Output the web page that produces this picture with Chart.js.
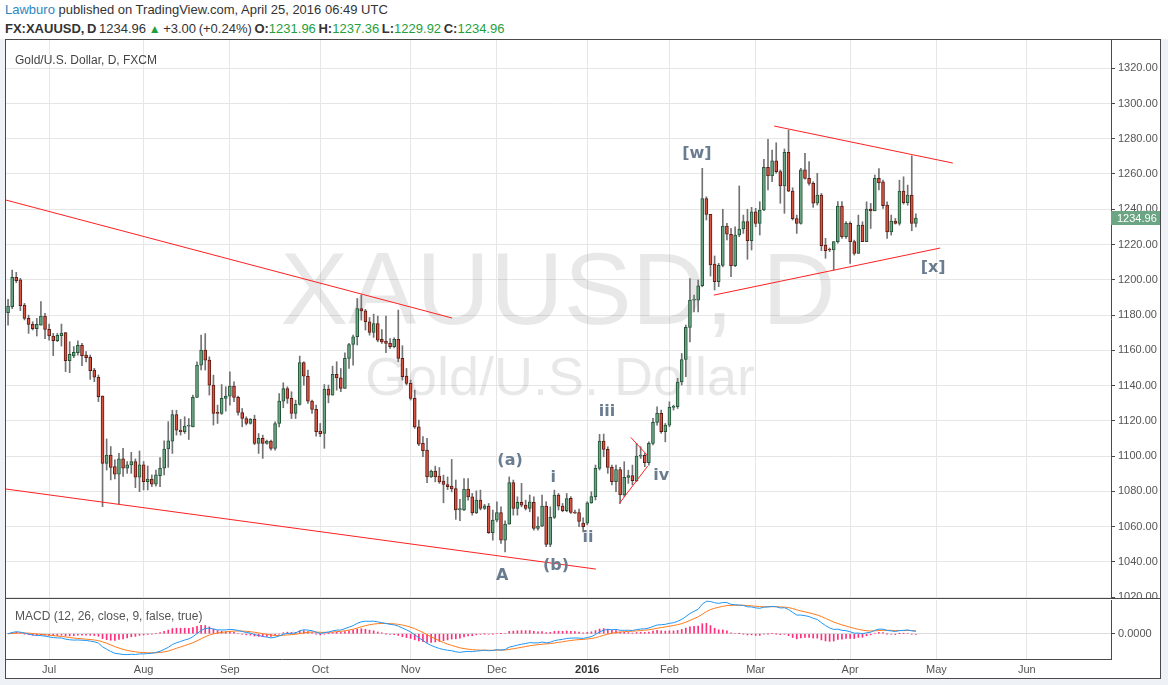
<!DOCTYPE html>
<html>
<head>
<meta charset="utf-8">
<script src="https://cdn.jsdelivr.net/npm/chart.js@4.4.1/dist/chart.umd.min.js"></script>
<style>
  body { margin: 0; width: 1168px; height: 685px; background: #eef1f5; position: relative; overflow: hidden;
         font-family: "Liberation Sans", Arial, sans-serif; }
  #head { position: absolute; left: 0; top: 0; width: 1168px; height: 39px; background: #fff; color: #333; font-size: 13px; }
  #l1 { position: absolute; left: 5px; top: 2px; white-space: nowrap; }
  #l2 { position: absolute; left: 5px; top: 21px; white-space: nowrap; word-spacing: -1px; }
  #author { color: #2e86c1; }
  .g { color: #1fa03c; }
  .tri { color: #1fa03c; font-size: 12px; }
  #frame { position: absolute; left: 5px; top: 39px; width: 1154px; height: 638px; border: 1px solid #4a4a4a; background: #fff; }
  #main { position: absolute; left: 0; top: 0; }
  #sep { position: absolute; left: 0; top: 558px; width: 1154px; height: 1px; background: #4a4a4a; }
  #macd { position: absolute; left: 0; top: 559px; }
</style>
</head>
<body>
<div id="head">
  <div id="l1"><span id="author">Lawburo</span> published on TradingView.com, April 25, 2016 06:49 UTC</div>
  <div id="l2"></div>
</div>
<div id="frame">
  <canvas id="main" width="1154" height="558"></canvas>
  <div id="sep"></div>
  <canvas id="macd" width="1154" height="79"></canvas>
</div>
<script>
// ---- data (daily bars from Jun 17 2015, weekdays, no Dec 25 / Jan 1) ----
const dayCount = 269;
const skipDays = ['2015-12-25', '2016-01-01'];
const monthTickLabels = ['2016', 'Feb', 'Mar', 'Apr', 'May', 'Jun', 'Jul', 'Aug', 'Sep', 'Oct', 'Nov', 'Dec'];
const priceTicks = { min: 1019.5, max: 1336, step: 20 };

const openP = [
  1181.3,1184.7,1201.4,1199.9,1185.7,1178.1,1174.7,1172.3,1174.3,1179.4,
  1171.9,1168.1,1165.5,1168.3,1170.0,1154.1,1156.8,1158.6,1162.8,1157.3,
  1156.0,1148.8,1144.7,1134.1,1095.9,1100.6,1094.0,1089.7,1098.4,1093.1,
  1095.0,1096.9,1088.0,1095.0,1085.5,1087.0,1084.0,1088.9,1093.1,1104.0,
  1108.5,1123.6,1114.7,1113.8,1117.0,1116.6,1133.3,1151.6,1160.1,1154.4,
  1140.2,1124.5,1124.2,1132.7,1134.0,1139.7,1133.3,1124.7,1121.3,1118.5,
  1121.0,1107.2,1110.0,1107.2,1108.5,1104.3,1118.5,1131.2,1138.3,1132.7,
  1124.2,1129.3,1153.1,1145.3,1131.2,1126.5,1114.2,1112.9,1138.0,1134.6,
  1146.3,1144.4,1138.4,1155.4,1163.3,1167.7,1183.7,1182.4,1176.2,1170.1,
  1175.2,1166.2,1165.2,1163.9,1162.0,1166.2,1155.4,1145.4,1141.2,1132.7,
  1116.6,1107.2,1103.4,1088.2,1091.5,1088.6,1085.8,1083.9,1083.0,1081.6,
  1069.4,1069.4,1081.3,1076.9,1067.8,1075.0,1070.3,1071.6,1056.5,1063.7,
  1068.0,1052.3,1061.4,1085.0,1070.3,1073.7,1072.2,1070.3,1073.7,1059.0,
  1060.3,1071.6,1049.9,1065.2,1077.9,1071.6,1069.0,1076.0,1068.2,1068.0,
  1062.0,1062.0,1073.5,1077.0,1093.0,1108.5,1103.8,1093.6,1085.5,1092.4,
  1077.9,1087.9,1088.9,1086.0,1100.0,1100.4,1096.2,1107.2,1119.1,1124.2,
  1113.8,1117.6,1127.6,1128.0,1142.0,1154.8,1173.0,1188.5,1188.5,1196.6,
  1246.1,1237.1,1208.9,1198.9,1208.2,1230.5,1225.8,1208.0,1225.4,1228.8,
  1233.0,1222.2,1238.6,1232.0,1239.6,1263.8,1258.9,1267.4,1261.3,1253.2,
  1272.3,1250.3,1234.7,1232.0,1262.3,1257.5,1254.7,1243.4,1248.1,1219.7,
  1217.0,1216.9,1221.6,1241.8,1224.4,1232.0,1221.6,1214.9,1231.0,1221.6,
  1240.1,1239.1,1257.5,1255.6,1242.3,1227.2,1233.3,1231.9,1250.3,1243.7,
  1248.0,1231.96
];
const highP = [
  1188.9,1205.5,1204.2,1200.8,1186.6,1180.0,1176.2,1178.1,1187.6,1181.0,
  1174.9,1169.6,1169.6,1174.9,1170.0,1164.9,1162.1,1165.3,1164.0,1159.2,
  1157.3,1149.8,1146.0,1134.1,1109.7,1105.4,1097.8,1101.6,1104.4,1096.9,
  1102.1,1098.4,1102.9,1096.9,1094.4,1089.3,1092.1,1099.1,1108.6,1119.5,
  1126.0,1126.0,1120.8,1122.3,1121.3,1134.6,1153.5,1168.6,1169.5,1156.3,
  1145.9,1128.9,1140.6,1139.3,1147.8,1142.1,1134.0,1127.0,1122.3,1121.3,
  1123.2,1112.8,1111.9,1109.1,1109.1,1119.4,1135.5,1141.6,1139.3,1136.5,
  1131.7,1156.7,1153.5,1148.8,1131.7,1128.9,1118.5,1140.6,1140.3,1151.0,
  1153.5,1149.7,1158.6,1163.9,1168.6,1189.4,1191.3,1183.2,1178.6,1180.5,
  1179.4,1171.8,1179.4,1166.7,1167.1,1182.8,1162.6,1149.7,1143.1,1137.4,
  1120.4,1111.0,1110.0,1092.0,1094.3,1093.5,1089.2,1088.2,1098.1,1086.4,
  1075.4,1087.3,1087.3,1078.8,1080.3,1080.7,1072.6,1073.1,1069.4,1074.1,
  1071.2,1063.3,1088.2,1086.4,1076.9,1084.5,1075.0,1077.9,1076.9,1065.6,
  1077.9,1074.1,1071.2,1080.7,1078.8,1073.1,1078.8,1077.0,1069.4,1070.0,
  1065.0,1074.1,1079.8,1094.9,1112.3,1112.5,1105.3,1094.9,1094.9,1093.6,
  1096.8,1092.0,1094.9,1107.2,1105.3,1101.5,1108.1,1121.4,1128.0,1126.1,
  1118.5,1130.8,1128.9,1144.1,1158.2,1174.3,1200.7,1191.3,1199.8,1263.2,
  1247.1,1237.1,1213.5,1209.3,1240.0,1232.0,1229.2,1230.1,1253.2,1236.7,
  1240.0,1241.1,1240.5,1244.3,1268.3,1279.6,1273.6,1277.7,1262.3,1274.2,
  1284.9,1252.2,1236.7,1263.2,1271.7,1267.0,1255.6,1260.4,1249.0,1223.5,
  1218.0,1221.6,1244.3,1244.3,1233.0,1232.9,1222.5,1236.7,1232.9,1244.2,
  1243.3,1259.4,1263.1,1256.5,1244.2,1236.7,1234.8,1256.5,1258.4,1253.7,
  1270.3,1237.36
];
const lowP = [
  1174.3,1183.6,1198.3,1182.5,1177.2,1169.6,1171.5,1168.1,1174.3,1166.6,
  1165.8,1157.0,1164.9,1162.4,1147.9,1147.3,1155.8,1157.3,1151.3,1153.4,
  1143.5,1142.2,1130.9,1071.3,1092.1,1086.5,1087.0,1072.9,1088.4,1090.2,
  1090.2,1082.1,1079.8,1080.8,1080.8,1082.7,1083.0,1082.7,1089.3,1093.6,
  1101.5,1111.9,1111.9,1112.8,1109.4,1116.6,1133.3,1148.8,1148.8,1134.6,
  1117.6,1118.5,1123.6,1125.5,1128.9,1130.8,1123.2,1116.6,1117.6,1118.1,
  1106.5,1101.5,1098.7,1106.8,1103.4,1103.4,1116.6,1127.4,1129.9,1121.3,
  1121.3,1128.9,1140.2,1129.9,1124.2,1111.3,1111.0,1104.4,1130.2,1134.6,
  1137.4,1136.5,1138.4,1149.7,1151.6,1163.0,1177.1,1171.5,1168.6,1167.3,
  1164.8,1163.9,1158.6,1161.1,1161.4,1153.5,1143.1,1140.3,1131.8,1115.7,
  1105.9,1099.6,1084.9,1087.9,1085.4,1084.5,1073.5,1081.0,1079.7,1064.1,
  1063.3,1069.0,1075.0,1066.5,1067.4,1069.4,1069.7,1056.1,1052.3,1062.7,
  1050.4,1045.7,1061.4,1066.5,1066.5,1071.2,1069.4,1068.4,1058.0,1058.0,
  1059.9,1048.6,1048.6,1064.6,1069.4,1068.4,1068.4,1067.5,1067.5,1060.0,
  1057.0,1061.0,1073.2,1075.1,1092.1,1099.6,1090.2,1083.6,1079.8,1073.2,
  1077.0,1084.5,1083.6,1085.5,1098.7,1094.0,1094.9,1106.3,1117.6,1112.9,
  1108.1,1116.6,1126.1,1127.0,1140.3,1145.0,1164.8,1181.8,1181.8,1196.0,
  1233.9,1202.1,1194.2,1196.1,1207.4,1222.6,1201.8,1207.4,1224.4,1226.3,
  1211.6,1216.9,1230.1,1225.4,1239.2,1250.9,1255.6,1260.4,1243.4,1237.7,
  1250.0,1233.9,1226.3,1231.6,1257.0,1253.7,1241.1,1242.4,1216.5,1212.2,
  1216.0,1205.5,1220.7,1223.5,1223.5,1209.3,1214.0,1214.9,1221.6,1221.6,
  1229.1,1239.1,1250.9,1240.5,1223.4,1225.3,1231.6,1231.0,1242.9,1242.3,
  1227.8,1229.92
];
const closeP = [
  1185.1,1201.4,1199.5,1185.3,1178.1,1174.7,1172.3,1174.7,1179.4,1171.9,
  1168.1,1165.5,1168.5,1169.8,1154.1,1157.7,1158.8,1162.8,1157.0,1155.8,
  1148.5,1144.7,1133.7,1095.9,1100.6,1093.5,1089.7,1098.4,1093.1,1095.0,
  1096.9,1088.0,1095.0,1085.5,1087.0,1084.0,1089.3,1093.1,1104.0,1108.6,
  1123.6,1114.7,1113.8,1117.0,1117.2,1133.3,1151.6,1160.1,1154.4,1140.2,
  1124.2,1124.2,1132.7,1134.0,1139.7,1133.3,1124.7,1121.3,1118.5,1121.0,
  1107.2,1110.0,1107.2,1108.5,1104.3,1118.5,1131.2,1138.3,1132.7,1124.2,
  1129.3,1153.1,1145.3,1131.2,1126.5,1113.8,1112.5,1138.0,1134.6,1146.3,
  1144.4,1138.4,1155.4,1163.3,1167.7,1183.7,1182.4,1176.2,1170.1,1175.2,
  1165.8,1164.8,1163.9,1162.0,1166.2,1155.4,1145.0,1141.2,1132.7,1116.6,
  1106.8,1103.0,1088.2,1091.5,1088.2,1085.4,1083.9,1082.6,1081.3,1069.4,
  1070.2,1081.3,1076.9,1067.8,1075.0,1070.3,1071.8,1056.5,1063.7,1068.0,
  1052.3,1061.4,1085.0,1070.3,1073.7,1072.2,1070.3,1074.1,1059.0,1060.3,
  1071.6,1049.9,1065.2,1077.9,1071.6,1069.0,1075.9,1068.0,1067.6,1063.0,
  1060.0,1073.5,1077.0,1093.0,1108.5,1103.8,1093.6,1085.5,1092.4,1077.9,
  1087.9,1088.9,1086.0,1100.0,1100.4,1096.2,1107.2,1119.1,1124.2,1113.8,
  1117.6,1127.6,1128.0,1142.0,1154.8,1173.0,1188.5,1189.0,1196.6,1246.1,
  1237.0,1208.4,1198.9,1208.2,1230.5,1225.8,1208.0,1225.4,1228.8,1233.0,
  1222.2,1238.6,1232.0,1239.6,1263.8,1258.9,1267.4,1261.3,1253.2,1272.3,
  1250.3,1234.7,1232.0,1262.3,1257.5,1254.7,1243.4,1248.1,1219.3,1216.5,
  1216.9,1221.6,1241.8,1224.4,1232.0,1221.6,1214.9,1231.0,1221.6,1240.1,
  1239.1,1257.5,1255.0,1242.0,1227.2,1233.3,1231.9,1250.3,1243.7,1248.0,
  1231.96,1234.96
];

// drawings: [barIndex1, price1, barIndex2, price2]
const trendLines = [
  [-0.5, 1245.2, 108.1, 1178.3],
  [-0.5, 1081.3, 143.1, 1035.9],
  [186.5, 1287.2, 230.0, 1266.2],
  [171.8, 1191.3, 226.9, 1218.0],
  [151.6, 1110.6, 155.6, 1100.5],
  [148.8, 1073.1, 155.7, 1094.3]
];
const waveLabels = ['[w]', '(a)', 'i', 'iii', 'iv', 'ii', '(b)', 'A', '[x]'];
const waveX = [167.7, 122.2, 132.7, 145.8, 159.0, 141.2, 133.4, 120.3, 225.2];
const waveY = [1271.6, 1097.1, 1087.5, 1124.9, 1088.6, 1053.5, 1037.6, 1031.9, 1206.6];

// ---- colours ----
const upFill = '#6ba583', upLine = '#225437';
const downFill = '#d75442', downLine = '#5b1a13';
const wickColor = '#737375';
const gridColor = '#e6e6e6';
const frameColor = '#4a4a4a';
const FONT = '"Liberation Sans", Arial, sans-serif';

Chart.defaults.font.family = FONT;
Chart.defaults.animation = false;

// category labels: trading days
const dates = [];
const d = new Date(Date.UTC(2015, 5, 17));
while (dates.length < dayCount) {
  const wd = d.getUTCDay();
  const iso = d.toISOString().slice(0, 10);
  if (wd !== 0 && wd !== 6 && !skipDays.includes(iso)) dates.push(iso);
  d.setUTCDate(d.getUTCDate() + 1);
}
function isMonthStart(i) {
  return i > 0 && i < dates.length && dates[i].slice(5, 7) !== dates[i - 1].slice(5, 7);
}
function tickLabel(i) {
  return isMonthStart(i) ? monthTickLabels[parseInt(dates[i].slice(5, 7), 10) - 1] : '';
}

// MACD (12, 26, close, 9) from the closes
function ema(src, n) {
  const k = 2 / (n + 1);
  const out = [];
  src.forEach((v, i) => out.push(i ? v * k + out[i - 1] * (1 - k) : v));
  return out;
}
const fastEma = ema(closeP, 12), slowEma = ema(closeP, 26);
const macdLine = closeP.map((_, i) => fastEma[i] - slowEma[i]);
const signalLine = ema(macdLine, 9);
const histogram = macdLine.map((v, i) => v - signalLine[i]);

// header values from the last bar
const n = closeP.length - 1;
const chg = closeP[n] - closeP[n - 1];
document.getElementById('l2').innerHTML =
  '<b>FX:XAUUSD, D</b> ' + closeP[n].toFixed(2) + ' <span class="tri">&#9650;</span> +' + chg.toFixed(2) +
  ' (+' + (chg / closeP[n - 1] * 100).toFixed(2) + '%) <b>O:</b><span class="g">' + openP[n].toFixed(2) +
  '</span> <b>H:</b><span class="g">' + highP[n].toFixed(2) + '</span> <b>L:</b><span class="g">' +
  lowP[n].toFixed(2) + '</span> <b>C:</b><span class="g">' + closeP[n].toFixed(2) + '</span>';

function xAxis(showLabels) {
  return {
    type: 'category',
    offset: true,
    grid: { offset: false, drawTicks: false, color: c => isMonthStart(c.index) ? gridColor : 'rgba(0,0,0,0)' },
    border: { display: showLabels, color: frameColor },
    ticks: {
      display: showLabels, autoSkip: false, maxRotation: 0, minRotation: 0, padding: 4,
      callback: (v, i) => tickLabel(i),
      color: c => tickLabel(c.index) === '2016' ? '#333' : '#555',
      font: c => ({ family: FONT, size: 11, weight: tickLabel(c.index) === '2016' ? 'bold' : 'normal' })
    },
    afterFit: s => { s.height = showLabels ? 19 : 0; s.paddingLeft = 0; s.paddingRight = 0; }
  };
}

const overlay = {
  id: 'overlay',
  beforeDatasetsDraw(chart) {
    const ctx = chart.ctx;
    ctx.save();
    ctx.fillStyle = 'rgba(0,0,0,0.09)';
    ctx.textAlign = 'center';
    ctx.textBaseline = 'alphabetic';
    ctx.font = '102px ' + FONT;
    ctx.fillText('XAUUSD, D', 552, 284);
    ctx.font = '54px ' + FONT;
    ctx.fillText('Gold/U.S. Dollar', 554, 355);
    ctx.textAlign = 'left';
    ctx.textBaseline = 'middle';
    ctx.fillStyle = '#444';
    ctx.font = '12px ' + FONT;
    ctx.fillText('Gold/U.S. Dollar, D, FXCM', 9, 21);
    ctx.restore();
  },
  afterDatasetsDraw(chart) {
    const { ctx, chartArea: a, scales: { x, y } } = chart;
    ctx.save();
    ctx.beginPath();
    ctx.rect(a.left, a.top, a.right - a.left, a.bottom - a.top);
    ctx.clip();
    ctx.strokeStyle = '#ff2020';
    ctx.lineWidth = 1;
    trendLines.forEach(t => {
      ctx.beginPath();
      ctx.moveTo(x.getPixelForValue(t[0]), y.getPixelForValue(t[1]));
      ctx.lineTo(x.getPixelForValue(t[2]), y.getPixelForValue(t[3]));
      ctx.stroke();
    });
    ctx.fillStyle = '#6a7c8f';
    ctx.font = 'bold 16px "DejaVu Sans", sans-serif';
    ctx.textAlign = 'center';
    ctx.textBaseline = 'middle';
    waveLabels.forEach((t, i) => ctx.fillText(t, x.getPixelForValue(waveX[i]), y.getPixelForValue(waveY[i])));
    ctx.restore();
  },
  afterDraw(chart) {
    const { ctx, chartArea: a, scales: { y } } = chart;
    const py = Math.round(y.getPixelForValue(closeP[n]));
    ctx.save();
    ctx.fillStyle = '#6ba583';
    ctx.fillRect(a.right, py - 7, chart.width - a.right, 14);
    ctx.fillStyle = '#fff';
    ctx.font = '11px ' + FONT;
    ctx.textBaseline = 'middle';
    ctx.fillText(closeP[n].toFixed(2), a.right + 6, py + 0.5);
    ctx.restore();
  }
};

new Chart(document.getElementById('main'), {
  type: 'bar',
  data: {
    labels: dates,
    datasets: [
      {
        label: 'wick', data: lowP.map((l, i) => [l, highP[i]]),
        backgroundColor: wickColor, barThickness: 1, grouped: false, order: 2
      },
      {
        label: 'body', data: openP.map((o, i) => [o, closeP[i]]),
        backgroundColor: openP.map((o, i) => closeP[i] >= o ? upFill : downFill),
        borderColor: openP.map((o, i) => closeP[i] >= o ? upLine : downLine),
        borderWidth: 1, borderSkipped: false, barThickness: 3, minBarLength: 1, grouped: false, order: 1
      }
    ]
  },
  options: {
    responsive: false,
    devicePixelRatio: 1,
    events: [],
    layout: { padding: 0, autoPadding: false },
    plugins: { legend: { display: false }, tooltip: { enabled: false } },
    scales: {
      x: xAxis(false),
      y: {
        position: 'right', min: priceTicks.min, max: priceTicks.max,
        grid: { color: gridColor, tickColor: frameColor, tickLength: 4 },
        border: { color: frameColor },
        ticks: {
          stepSize: priceTicks.step, includeBounds: false, padding: 3, color: '#555',
          font: { size: 11 }, callback: v => v.toFixed(2)
        },
        afterFit: s => { s.width = 49; s.paddingTop = 0; s.paddingBottom = 0; }
      }
    }
  },
  plugins: [overlay]
});

const macdTitle = {
  id: 'macdTitle',
  afterDatasetsDraw(chart) {
    const ctx = chart.ctx;
    ctx.save();
    ctx.fillStyle = '#555';
    ctx.font = '12px ' + FONT;
    ctx.textBaseline = 'middle';
    ctx.fillText('MACD (12, 26, close, 9, false, true)', 9, 18);
    ctx.restore();
  }
};

new Chart(document.getElementById('macd'), {
  type: 'bar',
  data: {
    labels: dates,
    datasets: [
      { type: 'line', label: 'MACD', data: macdLine, borderColor: '#2196f3', borderWidth: 1, pointRadius: 0, tension: 0, order: 1 },
      { type: 'line', label: 'Signal', data: signalLine, borderColor: '#ff7a1a', borderWidth: 1, pointRadius: 0, tension: 0, order: 2 },
      { label: 'Histogram', data: histogram, backgroundColor: '#ff2d7a', barThickness: 1, grouped: false, order: 3 }
    ]
  },
  options: {
    responsive: false,
    devicePixelRatio: 1,
    events: [],
    layout: { padding: { top: 1 }, autoPadding: false },
    plugins: { legend: { display: false }, tooltip: { enabled: false } },
    scales: {
      x: xAxis(true),
      y: {
        position: 'right', min: -27, max: 36,
        grid: { color: '#dcdcdc', tickColor: frameColor, tickLength: 4 },
        border: { color: frameColor },
        afterBuildTicks: s => { s.ticks = [{ value: 0 }]; },
        ticks: { padding: 3, color: '#555', font: { size: 11 }, callback: v => v.toFixed(4) },
        afterFit: s => { s.width = 49; s.paddingTop = 0; s.paddingBottom = 0; }
      }
    }
  },
  plugins: [macdTitle]
});
</script>
</body>
</html>
